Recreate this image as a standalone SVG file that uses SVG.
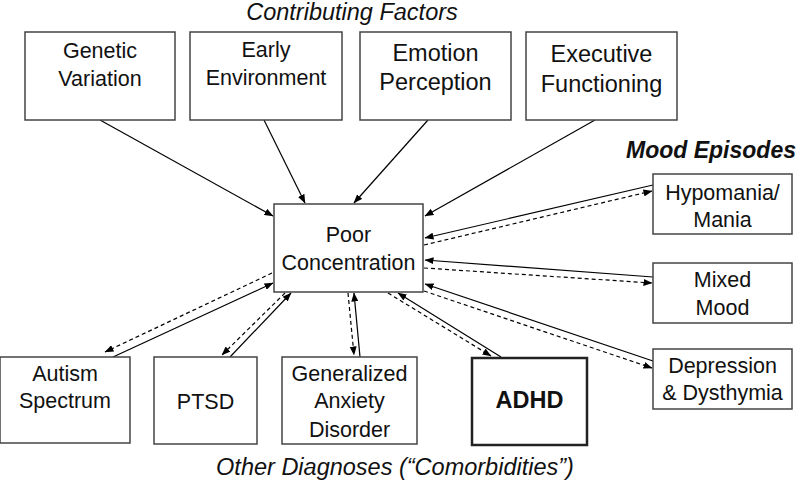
<svg xmlns="http://www.w3.org/2000/svg" width="800" height="482" viewBox="0 0 800 482">
<defs>
<marker id="ah" markerWidth="9" markerHeight="7" refX="8.5" refY="3.5" orient="auto" markerUnits="userSpaceOnUse">
<path d="M0,0 L9,3.5 L0,7 z" fill="#000"/>
</marker>
<style>
.box{fill:#fff;stroke:#444;stroke-width:1.5}
.bold-box{fill:#fff;stroke:#222;stroke-width:2.5}
text{font-family:"Liberation Sans",Arial,sans-serif;fill:#111;text-anchor:middle}
.t21{font-size:21.5px}
.t23{font-size:23.5px}
.title{font-size:23.5px;font-style:italic}
.btitle{font-size:23px;font-style:italic;font-weight:bold}
.sol{stroke:#000;stroke-width:1.2;fill:none;marker-end:url(#ah)}
.das{stroke:#000;stroke-width:1.2;fill:none;stroke-dasharray:4,3;marker-end:url(#ah)}
</style>
</defs>
<rect width="800" height="482" fill="#fff"/>
<text class="title" x="352" y="19.5">Contributing Factors</text>
<text class="btitle" x="711" y="158">Mood Episodes</text>
<text class="title" x="395" y="475">Other Diagnoses (“Comorbidities”)</text>

<g id="connectors">
<line class="sol" x1="100" y1="120" x2="273" y2="216"/>
<line class="sol" x1="264" y1="120" x2="305" y2="203"/>
<line class="sol" x1="428" y1="120" x2="354" y2="203"/>
<line class="sol" x1="595" y1="120" x2="425" y2="216"/>

<line class="sol" x1="653" y1="185" x2="425" y2="238"/>
<line class="das" x1="424" y1="245" x2="652" y2="191"/>
<line class="sol" x1="653" y1="277" x2="425" y2="260"/>
<line class="das" x1="424" y1="268" x2="652" y2="283"/>
<line class="sol" x1="653" y1="361" x2="425" y2="284"/>
<line class="das" x1="424" y1="291" x2="652" y2="368"/>

<line class="sol" x1="113" y1="357" x2="273" y2="283"/>
<line class="das" x1="272" y1="273" x2="105" y2="352"/>
<line class="sol" x1="230" y1="357" x2="291" y2="293"/>
<line class="das" x1="285" y1="293" x2="222" y2="355"/>
<line class="sol" x1="360" y1="357" x2="354" y2="293"/>
<line class="das" x1="348" y1="293" x2="354" y2="355"/>
<line class="sol" x1="501" y1="357" x2="398" y2="293"/>
<line class="das" x1="388" y1="293" x2="491" y2="356"/>
</g>

<g id="genetic">
<rect class="box" x="25" y="32" width="150" height="88"/>
<text class="t21" x="100" y="58">Genetic</text>
<text class="t21" x="100" y="86">Variation</text>
</g>
<g id="early">
<rect class="box" x="190" y="32" width="152" height="88"/>
<text class="t21" x="266" y="57">Early</text>
<text class="t21" x="266" y="85">Environment</text>
</g>
<g id="emotion">
<rect class="box" x="360" y="32" width="151" height="88"/>
<text class="t23" x="435.5" y="61">Emotion</text>
<text class="t23" x="435.5" y="90">Perception</text>
</g>
<g id="executive">
<rect class="box" x="526" y="32" width="151" height="88"/>
<text class="t23" x="601.5" y="62">Executive</text>
<text class="t23" x="601.5" y="92">Functioning</text>
</g>

<g id="poor">
<rect class="box" x="274" y="204" width="149" height="88"/>
<text class="t21" x="348.5" y="242">Poor</text>
<text class="t21" x="348.5" y="270">Concentration</text>
</g>

<g id="hypomania">
<rect class="box" x="653" y="174" width="139" height="60"/>
<text class="t21" x="722.5" y="200">Hypomania/</text>
<text class="t21" x="722.5" y="227">Mania</text>
</g>
<g id="mixed">
<rect class="box" x="653" y="263" width="139" height="60"/>
<text class="t21" x="722.5" y="287">Mixed</text>
<text class="t21" x="722.5" y="315">Mood</text>
</g>
<g id="depression">
<rect class="box" x="653" y="349" width="139" height="60"/>
<text class="t21" x="722.5" y="373">Depression</text>
<text class="t21" x="722.5" y="400">&amp; Dysthymia</text>
</g>

<g id="autism">
<rect class="box" x="0" y="357" width="130" height="86"/>
<text class="t21" x="65" y="381">Autism</text>
<text class="t21" x="65" y="408">Spectrum</text>
</g>
<g id="ptsd">
<rect class="box" x="154" y="357" width="103" height="87"/>
<text class="t21" x="205.5" y="409">PTSD</text>
</g>
<g id="gad">
<rect class="box" x="282" y="357" width="135" height="87"/>
<text class="t21" x="349.5" y="381">Generalized</text>
<text class="t21" x="349.5" y="408">Anxiety</text>
<text class="t21" x="349.5" y="437">Disorder</text>
</g>
<g id="adhd">
<rect class="bold-box" x="472" y="358" width="115" height="87"/>
<text class="t23" x="529.5" y="408" font-weight="bold">ADHD</text>
</g>
</svg>
